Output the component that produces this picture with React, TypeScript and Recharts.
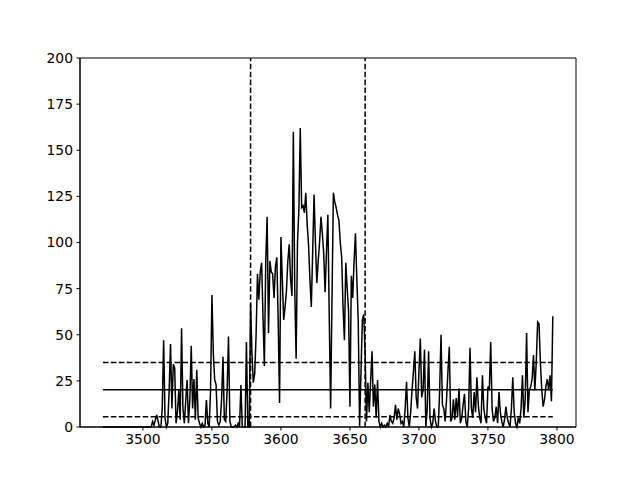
import React from "react";
import { LineChart, Line, XAxis, YAxis, ReferenceLine, ReferenceArea } from "recharts";

// Spectrum sampled every 1 unit starting at 3471
const startX = 3471;
const fluxValues: number[] = [
  // 3471-3506
  0, 0, 0, 0, 0, 0, 0, 0, 0, 0, 0, 0, 0, 0, 0, 0, 0, 0, 0, 0, 0, 0, 0, 0, 0, 0, 0, 0, 0, 0, 0, 0, 0, 0, 0, 0,
  // 3507-3520
  3, 1, 4, 6.5, 3, 0, 0, 10, 47, 5, 0, 2, 20, 45,
  // 3521-3540
  10, 34, 32, 2, 8, 20, 4, 53.5, 10, 2, 14, 25.5, 2, 15, 44, 10, 26, 4, 31, 5,
  // 3541-3560
  2, 0, 2, 0, 1, 14.6, 2, 0, 20, 71.5, 40, 25.5, 23, 3, 1, 3, 15, 38, 4, 3,
  // 3561-3577
  20, 49, 3, 0, 0, 0, 1, 0, 2, 0, 22.8, 0, 0, 0, 46, 0, 0,
  // 3578-3600
  67, 40, 24, 29, 50, 83, 69, 84, 89, 60, 33, 90, 114, 51, 90, 84, 83, 70, 87, 92, 58, 13, 103,
  // 3601-3620
  80, 58, 65, 74, 90, 99, 80, 71, 160, 75, 37, 100, 118, 162, 119, 120, 116, 127, 110, 99,
  // 3621-3640
  80, 65, 95, 126, 100, 78, 90, 100, 114, 105, 94, 73, 95, 115, 60, 10, 70, 127, 122, 119,
  // 3641-3663
  115, 112, 100, 92, 65, 47, 89, 75, 63, 11, 82, 70, 90, 105, 80, 58, 0, 30, 58, 61, 40, 3, 24,
  // 3664-3690
  8, 25, 41, 11, 23, 5, 25.5, 3, 0, 2, 0, 1, 0, 2, 0, 6.5, 3, 2, 5, 12, 4, 10, 7, 2, 3, 0, 10,
  // 3691-3727
  24.5, 5, 0, 8, 20, 30, 41, 16, 10, 30, 48, 16, 20, 42, 0, 10, 41, 5, 0, 2, 10, 3, 0, 0, 20, 50, 12, 10, 3, 15, 30, 43.5, 3, 5, 15, 4, 15.7,
  // 3728-3760
  6, 21, 2, 5, 12, 18, 3, 0, 10, 43, 10, 5, 19, 8, 27, 12, 5, 2, 28, 10, 5, 2, 22, 20, 46, 10, 3, 5, 11, 2, 19, 8, 3,
  // 3761-3797
  0, 4, 11, 5, 2, 0, 10, 27, 8, 2, 0, 5, 2, 10, 28, 5, 15, 51, 8, 20, 22, 26, 39, 20, 35, 57, 56, 35, 20, 11, 15, 22, 26, 20, 28, 14, 60,
];

const meanLevel = 20.2;
const upperLevel = 35;
const lowerLevel = 5.5;
const windowEdges = [3578, 3661];
const xTicks = [3500, 3550, 3600, 3650, 3700, 3750, 3800];
const yTicks = [0, 25, 50, 75, 100, 125, 150, 175, 200];
const xDomain: [number, number] = [3454.4, 3813.8];
const yDomain: [number, number] = [0, 200];

const data = fluxValues.map((v, i) => ({ x: startX + i, y: v }));
const xFirst = startX;
const xLast = startX + fluxValues.length - 1;

const tickStyle = { fill: "#000", fontSize: 13.9, fontFamily: "DejaVu Sans" };

export default function App() {
  return (
    <div style={{ margin: -8, width: 640, height: 480, background: "#fff" }}>
      <LineChart
        width={640}
        height={480}
        data={data}
        margin={{ top: 58, right: 64, bottom: 0, left: 0 }}
      >
        <XAxis
          dataKey="x"
          type="number"
          domain={xDomain}
          ticks={xTicks}
          allowDataOverflow
          height={53}
          tickSize={3.5}
          tickMargin={3.5}
          stroke="#000"
          tick={tickStyle}
          interval={0}
        />
        <YAxis
          type="number"
          domain={yDomain}
          ticks={yTicks}
          width={80}
          tickSize={3.5}
          tickMargin={3.5}
          stroke="#000"
          tick={tickStyle}
          interval={0}
        />
        <ReferenceArea
          x1={xDomain[0]}
          x2={xDomain[1]}
          y1={yDomain[0]}
          y2={yDomain[1]}
          fill="none"
          fillOpacity={0}
          stroke="#000"
          strokeWidth={1}
        />
        <ReferenceLine
          segment={[{ x: xFirst, y: meanLevel }, { x: xLast, y: meanLevel }]}
          stroke="#000"
          strokeWidth={1.5}
        />
        <ReferenceLine
          segment={[{ x: xFirst, y: upperLevel }, { x: xLast, y: upperLevel }]}
          stroke="#000"
          strokeWidth={1.5}
          strokeDasharray="5.55 2.4"
        />
        <ReferenceLine
          segment={[{ x: xFirst, y: lowerLevel }, { x: xLast, y: lowerLevel }]}
          stroke="#000"
          strokeWidth={1.5}
          strokeDasharray="5.55 2.4"
        />
        {windowEdges.map((w) => (
          <ReferenceLine
            key={w}
            x={w}
            stroke="#000"
            strokeWidth={1.5}
            strokeDasharray="5.55 2.4"
          />
        ))}
        <Line
          dataKey="y"
          type="linear"
          stroke="#000"
          strokeWidth={1.5}
          dot={false}
          isAnimationActive={false}
        />
      </LineChart>
    </div>
  );
}
